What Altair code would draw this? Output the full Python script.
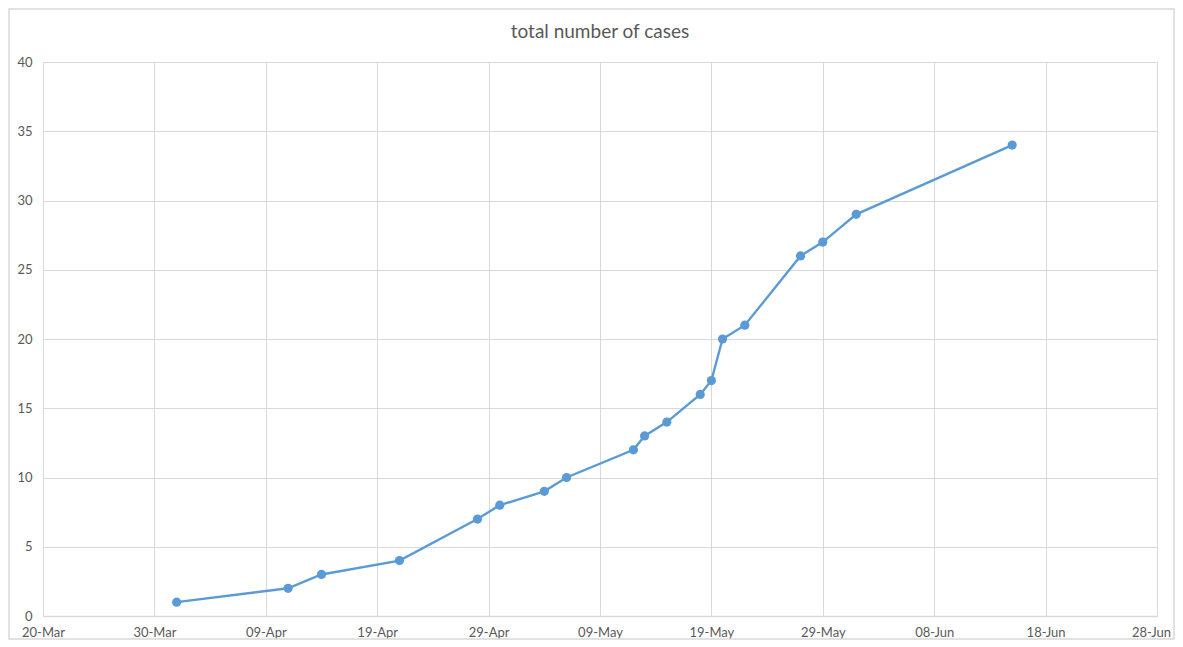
import altair as alt
import pandas as pd

dates = ["2020-04-01", "2020-04-11", "2020-04-14", "2020-04-21", "2020-04-28",
         "2020-04-30", "2020-05-04", "2020-05-06", "2020-05-12", "2020-05-13",
         "2020-05-15", "2020-05-18", "2020-05-19", "2020-05-20", "2020-05-22",
         "2020-05-27", "2020-05-29", "2020-06-01", "2020-06-15"]
cases = [1, 2, 3, 4, 7, 8, 9, 10, 12, 13, 14, 16, 17, 20, 21, 26, 27, 29, 34]
tick_dates = ["2020-03-20", "2020-03-30", "2020-04-09", "2020-04-19", "2020-04-29",
              "2020-05-09", "2020-05-19", "2020-05-29", "2020-06-08", "2020-06-18",
              "2020-06-28"]
y_ticks = [0, 5, 10, 15, 20, 25, 30, 35, 40]
title = "total number of cases"

df = pd.DataFrame({"date": dates, "cases": cases})

def dt(s):
    y, m, d = (int(v) for v in s.split("-"))
    return alt.DateTime(year=y, month=m, date=d, utc=True)

W, H = 1114, 554
PL, PT, PR, PB = 35, 54, 18, 24
FONT = "Lato"
GREY = "#595959"
GRID = "#d9d9d9"
BLUE = "#5b9bd5"

x = alt.X("date:T",
          scale=alt.Scale(type="utc", domain=[dt(tick_dates[0]), dt(tick_dates[-1])], nice=False),
          axis=alt.Axis(values=[dt(t) for t in tick_dates], format="%d-%b", title=None,
                        grid=True, gridColor=GRID, gridWidth=1, domain=True,
                        domainColor=GRID, domainWidth=1.5, ticks=False, labelPadding=10,
                        labelColor=GREY, labelFontSize=13, labelFont=FONT, labelFlush=False,
                        labelOffset=alt.ExprRef(expr="datum.index > 0.99 ? -6 : 0")))
y = alt.Y("cases:Q",
          scale=alt.Scale(domain=[0, 40], nice=False),
          axis=alt.Axis(values=y_ticks, title=None, grid=True, gridColor=GRID, gridWidth=1,
                        domain=False, ticks=False, labelPadding=11, labelColor=GREY,
                        labelFontSize=13, labelFont=FONT))

line = alt.Chart(df).mark_line(color=BLUE, strokeWidth=2.4, point=alt.OverlayMarkDef(
    color=BLUE, filled=True, size=85, opacity=1)).encode(x=x, y=y)

border = alt.Chart(pd.DataFrame({"a": [0]})).mark_rect(
    fill=None, stroke=GRID, strokeWidth=1.5, clip=False).encode(
    x=alt.value(-PL + 1), x2=alt.value(W + PR - 1), y=alt.value(-PT + 1), y2=alt.value(H + PB - 1))

title_mark = alt.Chart(pd.DataFrame({"t": [title]})).mark_text(
    font=FONT, fontSize=19, color=GREY, align="center", baseline="middle", clip=False).encode(
    text="t:N", x=alt.value(W / 2), y=alt.value(-30))

chart = alt.layer(border, line, title_mark).properties(
    width=W, height=H,
    padding={"left": PL, "top": PT, "right": PR, "bottom": PB},
    autosize=alt.AutoSizeParams(type="none"),
).configure_view(stroke=GRID, strokeWidth=1).configure(background="white")

chart.save("out.html", embed_options={"renderer": "svg", "actions": False})
